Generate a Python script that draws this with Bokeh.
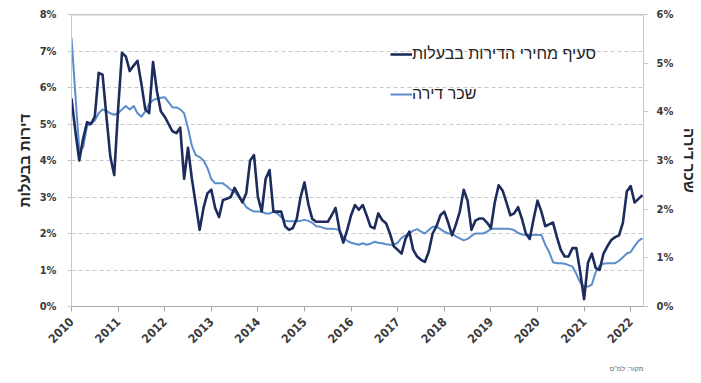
from math import pi

from bokeh.embed import file_html
from bokeh.models import (FixedTicker, Legend, LegendItem, LinearAxis,
                          PrintfTickFormatter, Range1d, Span, Title)
from bokeh.plotting import figure
from bokeh.resources import INLINE

# Monthly series, January 2010 - April 2022 (annual change, %)
owned_index = [
    5.7, 4.8, 4.0, 4.6, 5.05, 5.0, 5.2, 6.4, 6.35, 5.2, 4.1, 3.6,
    5.4, 6.95, 6.85, 6.45, 6.6, 6.73, 6.1, 5.4, 5.3, 6.7, 5.9, 5.35,
    5.2, 5.0, 4.8, 4.75, 4.9, 3.5, 4.35, 3.5, 2.8, 2.1, 2.7, 3.1,
    3.2, 2.7, 2.45, 2.92, 2.95, 3.0, 3.25, 3.05, 2.85, 3.1, 4.0, 4.15,
    3.0, 2.6, 3.5, 3.74, 2.6, 2.6, 2.6, 2.2, 2.1, 2.15, 2.4, 3.0,
    3.4, 2.8, 2.4, 2.32, 2.32, 2.32, 2.32, 2.5, 2.7, 2.1, 1.75, 2.1,
    2.5, 2.78, 2.65, 2.78, 2.5, 2.19, 2.14, 2.55, 2.37, 2.28, 2.0, 1.65,
    1.55, 1.45, 1.85, 2.05, 1.55, 1.37, 1.28, 1.22, 1.5, 2.0, 2.2, 2.5,
    2.6, 2.3, 1.95, 2.25, 2.6, 3.2, 2.9, 2.1, 2.35, 2.41, 2.41, 2.3,
    2.15, 2.85, 3.32, 3.18, 2.85, 2.5, 2.55, 2.72, 2.4, 2.0, 1.85, 2.4,
    2.9, 2.6, 2.2, 2.25, 2.3, 1.9, 1.55, 1.37, 1.37, 1.6, 1.6, 0.95,
    0.2, 1.2, 1.45, 1.05, 1.0, 1.45, 1.65, 1.82, 1.9, 1.95, 2.3, 3.15,
    3.3, 2.85, 2.95, 3.05,
]

rent = [
    5.52, 4.35, 3.22, 3.27, 3.71, 3.75, 3.82, 3.97, 4.05, 4.02, 3.97, 3.94,
    3.97, 4.05, 4.12, 4.05, 4.12, 3.97, 3.90, 4.01, 4.16, 4.24, 4.27, 4.29,
    4.30, 4.20, 4.09, 4.09, 4.05, 3.97, 3.67, 3.30, 3.11, 3.07, 3.00, 2.85,
    2.62, 2.53, 2.53, 2.53, 2.47, 2.40, 2.36, 2.25, 2.17, 2.04, 1.99, 1.95,
    1.95, 1.95, 1.91, 1.91, 1.95, 1.91, 1.84, 1.76, 1.75, 1.75, 1.75, 1.76,
    1.78, 1.76, 1.72, 1.65, 1.64, 1.61, 1.60, 1.60, 1.59, 1.57, 1.42, 1.35,
    1.31, 1.29, 1.27, 1.30, 1.27, 1.29, 1.33, 1.31, 1.30, 1.28, 1.27, 1.27,
    1.31, 1.41, 1.46, 1.50, 1.56, 1.59, 1.54, 1.50, 1.57, 1.64, 1.64, 1.59,
    1.54, 1.50, 1.50, 1.44, 1.40, 1.36, 1.39, 1.45, 1.50, 1.50, 1.50, 1.54,
    1.59, 1.60, 1.60, 1.60, 1.60, 1.59, 1.57, 1.51, 1.48, 1.47, 1.47, 1.47,
    1.47, 1.47, 1.27, 1.12, 0.91, 0.89, 0.89, 0.88, 0.85, 0.82, 0.67, 0.49,
    0.41, 0.41, 0.45, 0.71, 0.84, 0.88, 0.89, 0.89, 0.89, 0.94, 1.01, 1.09,
    1.12, 1.24, 1.35, 1.40,
]

months = [2010 + i / 12 for i in range(len(owned_index))]
years = list(range(2010, 2023))
left_ticks = list(range(0, 9))
right_ticks = list(range(0, 7))

owned_name = "סעיף מחירי הדירות בבעלות"
rent_name = "שכר דירה"
left_title = "דירות בבעלות"
right_title = "שכר דירה"
source_text = 'מקור: למ"ס'

DARK = "#1d2c5c"
LIGHT = "#5a8dcb"
TICK_FONT = "'Liberation Sans Narrow', 'DejaVu Sans Condensed', sans-serif"
HEB_FONT = "'Liberation Sans', Arial, sans-serif"

p = figure(
    width=701, height=383,
    x_range=Range1d(2010, 2010 + 147.3 / 12),
    y_range=Range1d(0, 8),
    output_backend="svg", toolbar_location=None,
    min_border_left=71, min_border_right=53,
    min_border_top=14, min_border_bottom=76,
)
p.extra_y_ranges = {"rent": Range1d(0, 6)}
p.outline_line_color = None
p.background_fill_color = "white"
p.border_fill_color = "white"

# grid
p.xgrid.grid_line_color = None
p.ygrid.ticker = FixedTicker(ticks=left_ticks)
p.ygrid.grid_line_color = "#c9c9c9"
p.ygrid.grid_line_dash = "4 3"
p.ygrid.grid_line_width = 1

top_line = Span(location=8, dimension="width", line_color="#8c8c8c", line_width=1.5)
p.add_layout(top_line)


def style_axis(ax, tick_out, standoff, size="11px"):
    ax.major_tick_out = tick_out
    ax.major_tick_in = 0
    ax.minor_tick_line_color = None
    ax.major_label_standoff = standoff
    ax.major_label_text_font = TICK_FONT
    ax.major_label_text_font_style = "bold"
    ax.major_label_text_font_size = size
    ax.major_label_text_color = "#3a3a3a"
    ax.axis_label_text_font = HEB_FONT
    ax.axis_label_text_font_style = "bold"
    ax.axis_label_text_font_size = "15px"
    ax.axis_label_text_color = "#262626"


# axes
xa = p.xaxis[0]
xa.ticker = FixedTicker(ticks=years)
xa.formatter = PrintfTickFormatter(format="%d")
xa.axis_line_color = "#a6a6a6"
xa.major_tick_line_color = "#a6a6a6"
style_axis(xa, 5, 8, "12px")
xa.major_label_orientation = pi / 4

ya = p.yaxis[0]
ya.ticker = FixedTicker(ticks=left_ticks)
ya.formatter = PrintfTickFormatter(format="%d%%")
ya.axis_line_color = "#c8c8c8"
ya.major_tick_line_color = "#c8c8c8"
style_axis(ya, 4, 11)
ya.axis_label = left_title
ya.axis_label_standoff = 4

ra = LinearAxis(y_range_name="rent", ticker=FixedTicker(ticks=right_ticks),
                formatter=PrintfTickFormatter(format="%d%%"))
ra.axis_line_color = "#c8c8c8"
ra.major_tick_line_color = "#c8c8c8"
style_axis(ra, 5, 8)
ra.axis_label = right_title
ra.axis_label_standoff = 5
p.add_layout(ra, "right")

# source note under the chart
p.add_layout(Title(text=source_text, align="right", text_font=HEB_FONT,
                   text_font_size="7px", text_font_style="normal",
                   text_color="#666666", standoff=24, offset=0), "below")

# series
rent_line = p.line(months, rent, y_range_name="rent", line_color=LIGHT,
                   line_width=2, line_join="round")
owned_line = p.line(months, owned_index, line_color=DARK, line_width=2.6,
                    line_join="round")

legend = Legend(
    items=[LegendItem(label=owned_name, renderers=[owned_line]),
           LegendItem(label=rent_name, renderers=[rent_line])],
    location=(319, 203),
    orientation="vertical",
    spacing=22,
    glyph_width=22, glyph_height=18, label_height=18,
    label_standoff=0,
    padding=0, margin=0,
    background_fill_alpha=0, border_line_color=None,
    label_text_font=HEB_FONT,
    label_text_font_size="16px",
    label_text_color="#222222",
)
p.add_layout(legend)

open("out.html", "w").write(file_html(p, INLINE))
